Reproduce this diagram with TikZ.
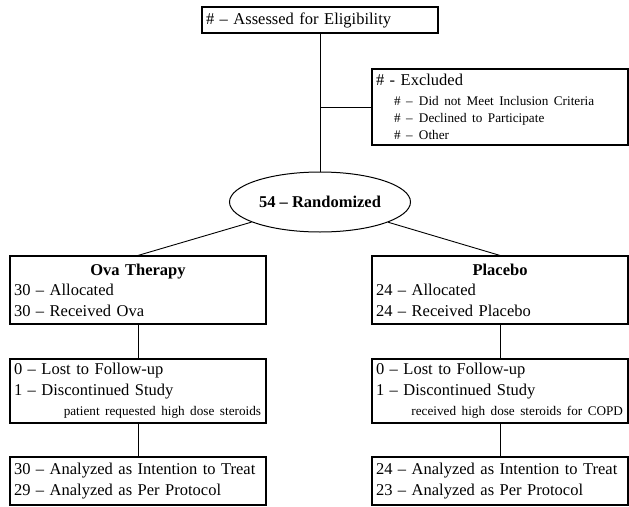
\documentclass[tikz,border=0pt]{standalone}
\usepackage{fontspec}
\setmainfont{Liberation Serif}
\usetikzlibrary{shapes.geometric}
\def\armwidth{248pt}
\newcommand{\armhead}[1]{\makebox[\armwidth][c]{\bfseries #1}}
\newcommand{\armnote}[1]{\makebox[\armwidth][r]{\fontsize{13.2}{16}\selectfont #1\hspace{1pt}}}
\newcommand{\exclitem}[1]{\makebox[\armwidth][l]{\hspace*{18pt}\fontsize{13.2}{16}\selectfont\makebox[25pt][l]{\# --}#1}}

\begin{document}
\begin{tikzpicture}[x=1pt,y=-1pt,line width=0.9pt]
	\tikzstyle{box}=[draw,rectangle,line width=1.1pt,inner xsep=4pt,inner ysep=0pt,align=left,font=\fontsize{16.5}{20.5}\selectfont]
	\tikzstyle{arm box}=[box,text width=\armwidth]
	\tikzstyle{rand}=[draw,ellipse,line width=1pt,minimum width=181pt,minimum height=60pt,inner sep=0pt,font=\fontsize{16.5}{20.5}\selectfont\bfseries]
	\useasboundingbox (0,0) rectangle (629,506);

	% Draw the screening nodes
	\node[box,text width=228pt,minimum height=26pt] (elig) at (320,20) {\# -- Assessed for Eligibility};
	\node[arm box,minimum height=76pt,font=\fontsize{16.5}{17}\selectfont] (excl) at (500,107)
	{\# - Excluded\\[3pt]
	\exclitem{Did not Meet Inclusion Criteria}\\
	\exclitem{Declined to Participate}\\
	\exclitem{Other}};

	% Draw the randomization
	\node[rand] (rand) at (320,202) {54 -- Randomized};

	% Draw the Ova arm
	\node[arm box,minimum height=68pt] (O-1) at (138,290) {\armhead{Ova Therapy}\\30 -- Allocated\\30 -- Received Ova};
	\node[arm box,minimum height=64pt] (O-2) at (138,391) {0 -- Lost to Follow-up\\1 -- Discontinued Study\\\armnote{patient requested high dose steroids}};
	\node[arm box,minimum height=48pt] (O-3) at (138,481) {30 -- Analyzed as Intention to Treat\\29 -- Analyzed as Per Protocol};

	% Draw the Placebo arm
	\node[arm box,minimum height=68pt] (P-1) at (500,290) {\armhead{Placebo}\\24 -- Allocated\\24 -- Received Placebo};
	\node[arm box,minimum height=64pt] (P-2) at (500,391) {0 -- Lost to Follow-up\\1 -- Discontinued Study\\\armnote{received high dose steroids for COPD}};
	\node[arm box,minimum height=48pt] (P-3) at (500,481) {24 -- Analyzed as Intention to Treat\\23 -- Analyzed as Per Protocol};

	% Connect screening
	\draw (elig) -- (rand);
	\draw (excl.west) -- (excl.west -| elig.south);

	% Connect arms
	\draw (rand) -- (O-1.north);
	\draw (rand) -- (P-1.north);
	\foreach \arm in {O,P}
	\foreach \source/\dest in {1/2,2/3}
	\draw (\arm-\source) -- (\arm-\dest);
\end{tikzpicture}
\end{document}
